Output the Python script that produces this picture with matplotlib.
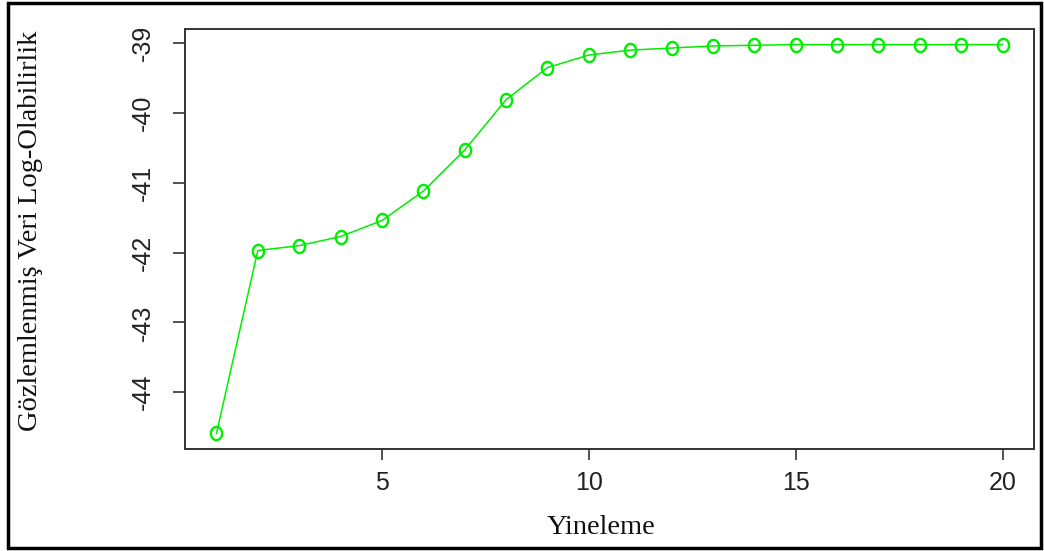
import matplotlib

matplotlib.use("Agg")

import matplotlib.pyplot as plt
import numpy as np
from matplotlib.patches import Rectangle
from matplotlib.path import Path

ITERATIONS = list(range(1, 21))
LOGLIK = [
    -44.59, -41.97, -41.90, -41.77, -41.54, -41.12, -40.53, -39.81, -39.35, -39.17,
    -39.10, -39.07, -39.04, -39.03, -39.02, -39.02, -39.02, -39.02, -39.02, -39.02,
]
X_TICKS = [5, 10, 15, 20]
Y_TICKS = [-44, -43, -42, -41, -40, -39]

X_LABEL = "Yineleme"
Y_LABEL = "Gözlemlenmiş Veri Log-Olabilirlik"

W, H, DPI = 1044, 551, 100
GREEN = "#00ee00"

# R's pch="o" looks like a tall ellipse
theta = np.linspace(0, 2 * np.pi, 60)
OVAL = Path(np.column_stack([0.85 * np.cos(theta), np.sin(theta)]), closed=True)


def px(x, y):
    return x / W, 1 - y / H


def main() -> None:
    fig = plt.figure(figsize=(W / DPI, H / DPI), dpi=DPI)
    left, top = px(185, 29)
    right, bottom = px(1034, 449)
    ax = fig.add_axes([left, bottom, right - left, top - bottom])

    ax.plot(ITERATIONS, LOGLIK, color=GREEN, linewidth=1.1, marker=OVAL, markersize=9.5,
            markerfacecolor="none", markeredgecolor=GREEN, markeredgewidth=1.7)

    # R style 4% padding
    xr = max(ITERATIONS) - min(ITERATIONS)
    yr = max(LOGLIK) - min(LOGLIK)
    ax.set_xlim(min(ITERATIONS) - 0.04 * xr, max(ITERATIONS) + 0.04 * xr)
    ax.set_ylim(min(LOGLIK) - 0.04 * yr, max(LOGLIK) + 0.04 * yr)

    ax.set_xticks(X_TICKS)
    ax.set_yticks(Y_TICKS)
    ax.set_xticklabels([str(t) for t in X_TICKS], fontsize=18, family="Liberation Sans", color="#222222")
    ax.set_yticklabels([str(t) for t in Y_TICKS], fontsize=18, family="Liberation Sans", color="#222222",
                       rotation=90, va="center")
    ax.tick_params(axis="x", length=8, width=1.2, pad=8, color="#333333")
    ax.tick_params(axis="y", length=9, width=1.2, pad=13, color="#333333")
    for spine in ax.spines.values():
        spine.set_linewidth(1.4)
        spine.set_color("#333333")

    fig.text(*px(31, 231), Y_LABEL, rotation=90, ha="center", va="center",
             fontsize=20.5, family="Liberation Serif", color="#111111")
    fig.text(*px(601, 527), X_LABEL, ha="center", va="center",
             fontsize=20.5, family="Liberation Serif", color="#111111")

    # outer frame around the screenshot
    fig.patches.append(Rectangle(px(8, 548), (1041 - 8) / W, (548 - 3) / H, transform=fig.transFigure,
                                 fill=False, edgecolor="black", linewidth=2.5))

    fig.savefig("out.png", dpi=DPI)
    plt.close(fig)


if __name__ == "__main__":
    main()
